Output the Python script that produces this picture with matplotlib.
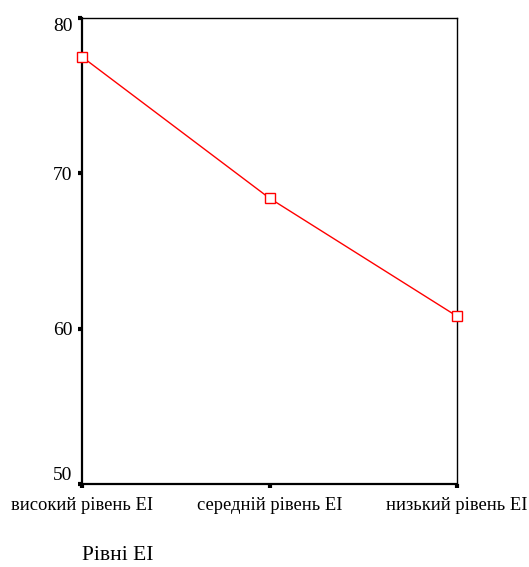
import matplotlib
matplotlib.use("Agg")
import matplotlib.pyplot as plt

categories = ["високий рівень ЕІ", "середній рівень ЕІ", "низький рівень ЕІ"]
values = [77.5, 68.4, 60.8]
y_ticks = [50, 60, 70, 80]
x_title = "Рівні ЕІ"

plt.rcParams['font.family'] = ['Liberation Serif', 'DejaVu Serif']

fig = plt.figure(figsize=(5.29, 5.67), dpi=100)
ax = fig.add_axes([82/529, 1-484/567, (457-82)/529, (484-18)/567])

x = list(range(len(categories)))
ax.plot(x, values, color='#ff0000', linewidth=1.0, marker='s', markersize=7,
        markerfacecolor='white', markeredgecolor='#ff0000', markeredgewidth=1.0,
        clip_on=False, zorder=5)

ax.set_xlim(0, len(categories)-1)
ax.set_ylim(50, 80)
ax.set_yticks(y_ticks)
ax.set_yticklabels([str(t) for t in y_ticks], fontsize=14)
ax.set_xticks(x)
ax.set_xticklabels(categories, fontsize=13.3)
ax.tick_params(axis='both', direction='out', length=3, width=3, color='black')
ax.tick_params(axis='x', pad=6)
ax.tick_params(axis='y', pad=4)

for side in ['left', 'bottom']:
    ax.spines[side].set_linewidth(1.6)
for side in ['top', 'right']:
    ax.spines[side].set_linewidth(1.0)

lbls = ax.get_yticklabels()
lbls[0].set_verticalalignment('bottom')
lbls[-1].set_verticalalignment('top')

fig.text(82/529, 1-556/567, x_title, fontsize=15.5, ha='left', va='center')

fig.savefig("out.png", dpi=100)
